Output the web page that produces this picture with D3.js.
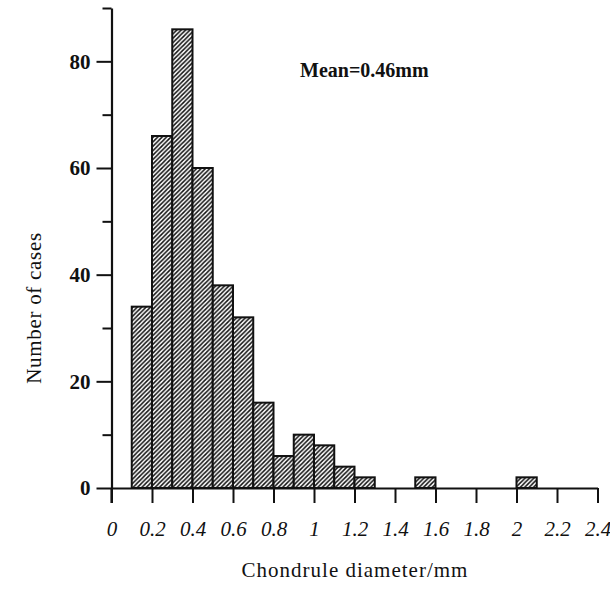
<!DOCTYPE html>
<html>
<head>
  <meta charset="utf-8">
  <title>Chondrule diameter histogram</title>
  <style>
    body { margin: 0; background: #fff; }
    text { font-family: "Liberation Serif", "Times New Roman", serif; fill: #111; }
  </style>
</head>
<body>
  <div class="chart"></div>
  <script src="https://cdn.jsdelivr.net/npm/d3@7/dist/d3.min.js"></script>
  <script>
    // histogram bins (left edge, mm) and counts
    var binStarts = [0.1, 0.2, 0.3, 0.4, 0.5, 0.6, 0.7, 0.8, 0.9, 1.0, 1.1, 1.2, 1.3, 1.4, 1.5, 1.6, 1.7, 1.8, 1.9, 2.0];
    var counts = [34, 66, 86, 60, 38, 32, 16, 6, 10, 8, 4, 2, 0, 0, 2, 0, 0, 0, 0, 2];
    var binWidth = 0.1;

    var xTicks = [0, 0.2, 0.4, 0.6, 0.8, 1, 1.2, 1.4, 1.6, 1.8, 2, 2.2, 2.4];
    var yTicks = [0, 10, 20, 30, 40, 50, 60, 70, 80, 90];
    var yLabelled = [0, 20, 40, 60, 80];

    var width = 610, height = 590;

    var x = d3.scaleLinear().domain([0, 2.4]).range([111.5, 597.5]);
    var y = d3.scaleLinear().domain([0, 90]).range([488, 8]);

    var svg = d3.select(".chart").append("svg")
      .attr("width", width)
      .attr("height", height);

    var defs = svg.append("defs");
    var pat = defs.append("pattern")
      .attr("id", "hatch")
      .attr("patternUnits", "userSpaceOnUse")
      .attr("width", 4.4)
      .attr("height", 4.4);
    pat.append("rect").attr("width", 4.4).attr("height", 4.4).attr("fill", "#fff");
    pat.append("path")
      .attr("d", "M0,4.4 L4.4,0 M-1.1,1.1 L1.1,-1.1 M3.3,5.5 L5.5,3.3")
      .attr("stroke", "#111")
      .attr("stroke-width", 1.5);

    var bins = binStarts.map(function (d, i) { return { x0: d, n: counts[i] }; })
      .filter(function (d) { return d.n > 0; });

    svg.append("g").attr("class", "bars")
      .selectAll("rect")
      .data(bins)
      .enter().append("rect")
      .attr("x", function (d) { return x(d.x0); })
      .attr("y", function (d) { return y(d.n); })
      .attr("width", function (d) { return x(d.x0 + binWidth) - x(d.x0); })
      .attr("height", function (d) { return y(0) - y(d.n); })
      .attr("fill", "url(#hatch)")
      .attr("stroke", "#111")
      .attr("stroke-width", 2);

    // x axis
    var xAxis = d3.axisBottom(x)
      .tickValues(xTicks)
      .tickSize(15)
      .tickSizeOuter(0)
      .tickPadding(18)
      .tickFormat(function (d) { return (d === 1 || d === 2 || d === 0) ? String(d) : d3.format(".1f")(d); });

    var gx = svg.append("g")
      .attr("transform", "translate(0," + y(0) + ")")
      .call(xAxis);
    gx.select(".domain").attr("stroke", "#111").attr("stroke-width", 2);
    gx.selectAll(".tick line").attr("stroke", "#111").attr("stroke-width", 2);
    gx.selectAll(".tick text")
      .attr("fill", "#111")
      .style("font-size", "21px")
      .style("font-style", "italic");

    // y axis
    var yAxis = d3.axisLeft(y)
      .tickValues(yTicks)
      .tickSizeOuter(0)
      .tickSize(0)
      .tickPadding(21)
      .tickFormat(function (d) { return yLabelled.indexOf(d) >= 0 ? d : ""; });

    var gy = svg.append("g")
      .attr("transform", "translate(" + x(0) + ",0)")
      .call(yAxis);
    gy.select(".domain").attr("stroke", "#111").attr("stroke-width", 2.2);
    gy.selectAll(".tick line")
      .attr("x2", function (d) { return yLabelled.indexOf(d) >= 0 ? -15 : -9; })
      .attr("stroke", "#111")
      .attr("stroke-width", 2);
    gy.selectAll(".tick text")
      .attr("fill", "#111")
      .style("font-size", "21px")
      .style("font-weight", "bold");

    // y axis continues down to the x-axis tick at 0
    gy.append("line")
      .attr("x1", 0).attr("x2", 0)
      .attr("y1", y(0)).attr("y2", y(0) + 15)
      .attr("stroke", "#111").attr("stroke-width", 2.2);

    svg.append("text")
      .attr("x", 300)
      .attr("y", 77)
      .style("font-size", "20px")
      .style("font-weight", "bold")
      .text("Mean=0.46mm");

    svg.append("text")
      .attr("transform", "translate(41,308) rotate(-90)")
      .attr("text-anchor", "middle")
      .style("font-size", "21px")
      .style("letter-spacing", "0.7px")
      .text("Number of cases");

    svg.append("text")
      .attr("x", 355)
      .attr("y", 577)
      .attr("text-anchor", "middle")
      .style("font-size", "21px")
      .style("letter-spacing", "1px")
      .text("Chondrule diameter/mm");
  </script>
</body>
</html>
